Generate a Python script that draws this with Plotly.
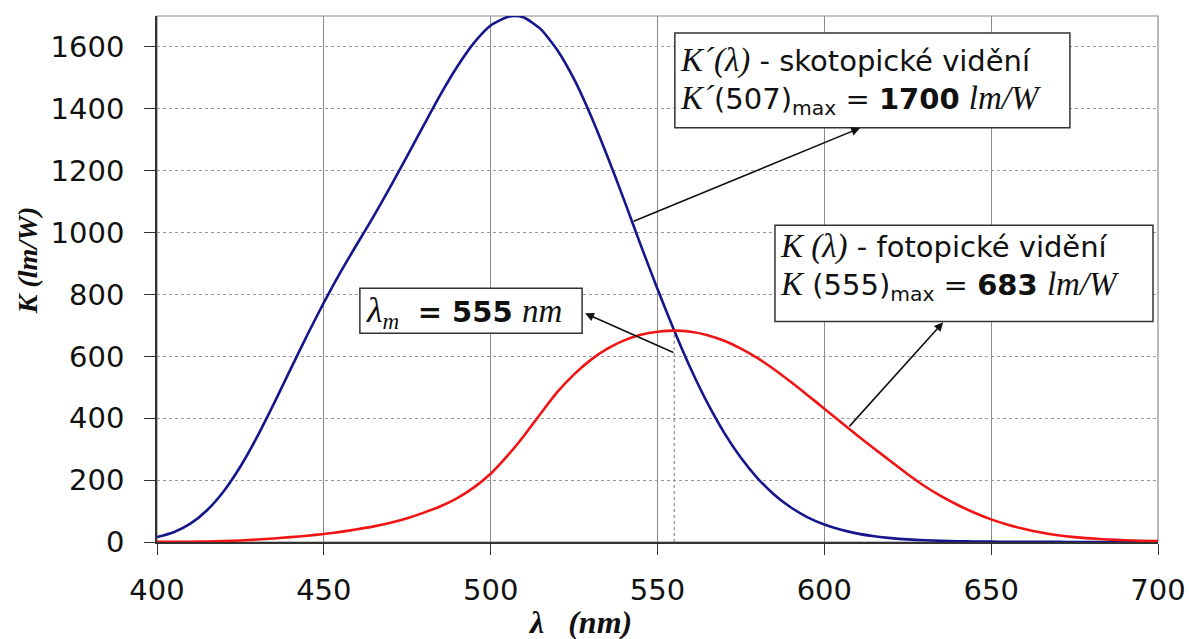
import numpy as np
import plotly.graph_objects as go

# Scotopic luminous efficacy K'(λ) in lm/W (peak 1700 lm/W at 507 nm)
wl_scotopic = [400, 405, 410, 415, 420, 425, 430, 435, 440, 445, 450, 455, 460, 465,
               470, 475, 480, 485, 490, 495, 500, 505, 507, 510, 515, 520, 525, 530,
               535, 540, 545, 550, 555, 560, 565, 570, 575, 580, 585, 590, 595, 600,
               605, 610, 615, 620, 625, 630, 635, 640, 645, 650, 655, 660, 665, 670,
               675, 680, 685, 690, 695, 700]
k_scotopic = [15.8, 31.5, 59.2, 102.7, 164.2, 244.1, 339.7, 446.3, 557.8, 668.3,
              773.5, 872.1, 963.9, 1054.0, 1149.2, 1247.8, 1348.1, 1446.7, 1536.8,
              1613.3, 1669.4, 1696.6, 1700.0, 1694.9, 1657.5, 1589.5, 1496.0, 1378.7,
              1246.1, 1105.0, 958.8, 817.7, 683.4, 559.0, 448.6, 352.9, 272.3, 206.0,
              152.8, 111.4, 79.7, 56.4, 39.3, 27.1, 18.5, 12.5, 8.4, 5.7, 3.8, 2.5,
              1.7, 1.2, 0.8, 0.5, 0.4, 0.3, 0.2, 0.1, 0.1, 0.1, 0.0, 0.0]

# Photopic luminous efficacy K(λ) in lm/W (peak 683 lm/W at 555 nm)
wl_photopic = list(range(400, 701, 5))
k_photopic = [0.3, 0.4, 0.8, 1.5, 2.7, 5.0, 7.9, 11.5, 15.7, 20.4, 26.0, 32.8, 41.0,
              50.5, 62.1, 76.9, 95.0, 115.6, 142.1, 176.6, 220.6, 278.2, 343.5, 415.4,
              484.9, 541.8, 588.7, 624.8, 651.6, 669.5, 679.5, 683.0, 679.6, 668.4,
              650.2, 625.2, 594.2, 557.5, 517.0, 474.6, 431.0, 387.1, 343.5, 301.3,
              260.2, 219.2, 181.0, 148.2, 119.5, 94.4, 73.1, 55.7, 41.7, 30.4, 21.9,
              15.8, 11.6, 8.1, 5.6, 3.9, 2.8]

lambda_m = 555
k_phot_max = 683

x_ticks = [400, 450, 500, 550, 600, 650, 700]
y_ticks = [0, 200, 400, 600, 800, 1000, 1200, 1400, 1600]

BLUE = "#15158c"
RED = "#f01414"
SANS = "DejaVu Sans"
SERIF_I = "font-family:Liberation Serif;font-style:italic"


def serif(txt, size=None):
    style = SERIF_I + (f";font-size:{size}px" if size else "")
    return f'<span style="{style}">{txt}</span>'


fig = go.Figure()

fig.add_trace(go.Scatter(x=wl_scotopic, y=k_scotopic, mode="lines",
                         line=dict(color=BLUE, width=2.6, shape="spline", smoothing=0.6),
                         name="K'(λ)", showlegend=False))
fig.add_trace(go.Scatter(x=wl_photopic, y=k_photopic, mode="lines",
                         line=dict(color=RED, width=2.6, shape="spline", smoothing=0.6),
                         name="K(λ)", showlegend=False))

shapes = []
# outer frame of the plot area (top/right edges)
shapes.append(dict(type="rect", xref="paper", yref="paper", x0=0, x1=1, y0=0, y1=1,
                   line=dict(color="#8a8a8a", width=1.2), layer="below"))
# dotted marker at the photopic maximum
shapes.append(dict(type="line", xref="x", yref="y", x0=lambda_m, x1=lambda_m,
                   y0=0, y1=k_phot_max, line=dict(color="#777", width=1, dash="dot"),
                   layer="below"))

# text boxes
boxes = [
    (555.2, 673.6, 1339, 1645),
    (585.2, 698.5, 713, 1024),
    (460.8, 527.4, 675, 820),
]
for x0, x1, y0, y1 in boxes:
    shapes.append(dict(type="rect", xref="x", yref="y", x0=x0, x1=x1, y0=y0, y1=y1,
                       fillcolor="white", line=dict(color="#333", width=1.5),
                       layer="above"))

annotations = []
FS = 29
SF = 33
tfont = dict(family=SANS, size=FS, color="#111")

texts = [
    (556.2, 1490,
     serif("K´(λ)", SF) + " - skotopické vidění<br>"
     + serif("K´", SF) + "(507)<sub>max</sub> = <b>1700</b> " + serif("lm/W", SF)),
    (586.2, 888,
     serif("K (λ)", SF) + " - fotopické vidění<br>"
     + serif("K", SF) + " (555)<sub>max</sub> = <b>683</b> " + serif("lm/W", SF)),
    (462.0, 743,
     serif("λ", 36) + serif("<sub>m</sub>", SF) + "  <b>= 555</b> " + serif("nm", SF)),
]
for x, y, txt in texts:
    annotations.append(dict(x=x, y=y, xref="x", yref="y", text=txt, showarrow=False,
                            xanchor="left", yanchor="middle", font=tfont, align="left"))

# arrows: tail on a curve (or marker), head at a text box
tail1_x = 542.4
tail1_y = float(np.interp(tail1_x, wl_scotopic, k_scotopic))
tail2_x = 607.1
tail2_y = float(np.interp(tail2_x, wl_photopic, k_photopic))
arrows = [
    ((610.7, 1338), (tail1_x, tail1_y)),
    ((635.6, 710), (tail2_x, tail2_y)),
    ((528.3, 739), (555.2, 610)),
]
for (hx, hy), (tx, ty) in arrows:
    annotations.append(dict(x=hx, y=hy, xref="x", yref="y", ax=tx, ay=ty,
                            axref="x", ayref="y", text="", showarrow=True,
                            arrowhead=2, arrowsize=1.1, arrowwidth=1.6,
                            arrowcolor="#111"))

# axis titles
annotations.append(dict(x=0.4226, y=-0.152, xref="paper", yref="paper",
                        text="<b><i>λ   (nm)</i></b>", showarrow=False,
                        xanchor="center", yanchor="middle",
                        font=dict(family="Liberation Serif", size=32, color="#111")))
annotations.append(dict(x=-0.1299, y=0.5355, xref="paper", yref="paper",
                        text="<b><i>K (lm/W)</i></b>", showarrow=False, textangle=-90,
                        xanchor="center", yanchor="middle",
                        font=dict(family="Liberation Serif", size=28, color="#111")))

fig.update_layout(
    width=1189, height=639,
    margin=dict(l=157, r=31, t=16, b=97),
    paper_bgcolor="white", plot_bgcolor="white",
    shapes=shapes, annotations=annotations,
    showlegend=False,
)
fig.update_xaxes(range=[400, 700], tickvals=x_ticks, showgrid=True, automargin=False,
                 gridcolor="#8c8c8c", gridwidth=1, zeroline=False,
                 showline=True, linecolor="#333", linewidth=1.6,
                 ticks="outside", ticklen=11, tickcolor="#333", tickwidth=1.2,
                 ticklabelstandoff=10,
                 tickfont=dict(family=SANS, size=29, color="#111"))
fig.update_yaxes(range=[0, 1700], tickvals=y_ticks, showgrid=True, automargin=False,
                 gridcolor="#9a9a9a", gridwidth=1, griddash="dot", zeroline=False,
                 showline=True, linecolor="#333", linewidth=1.6,
                 ticks="outside", ticklen=11, tickcolor="#333", tickwidth=1.2,
                 ticklabelstandoff=14,
                 tickfont=dict(family=SANS, size=29, color="#111"))

fig.write_html("out.html")
